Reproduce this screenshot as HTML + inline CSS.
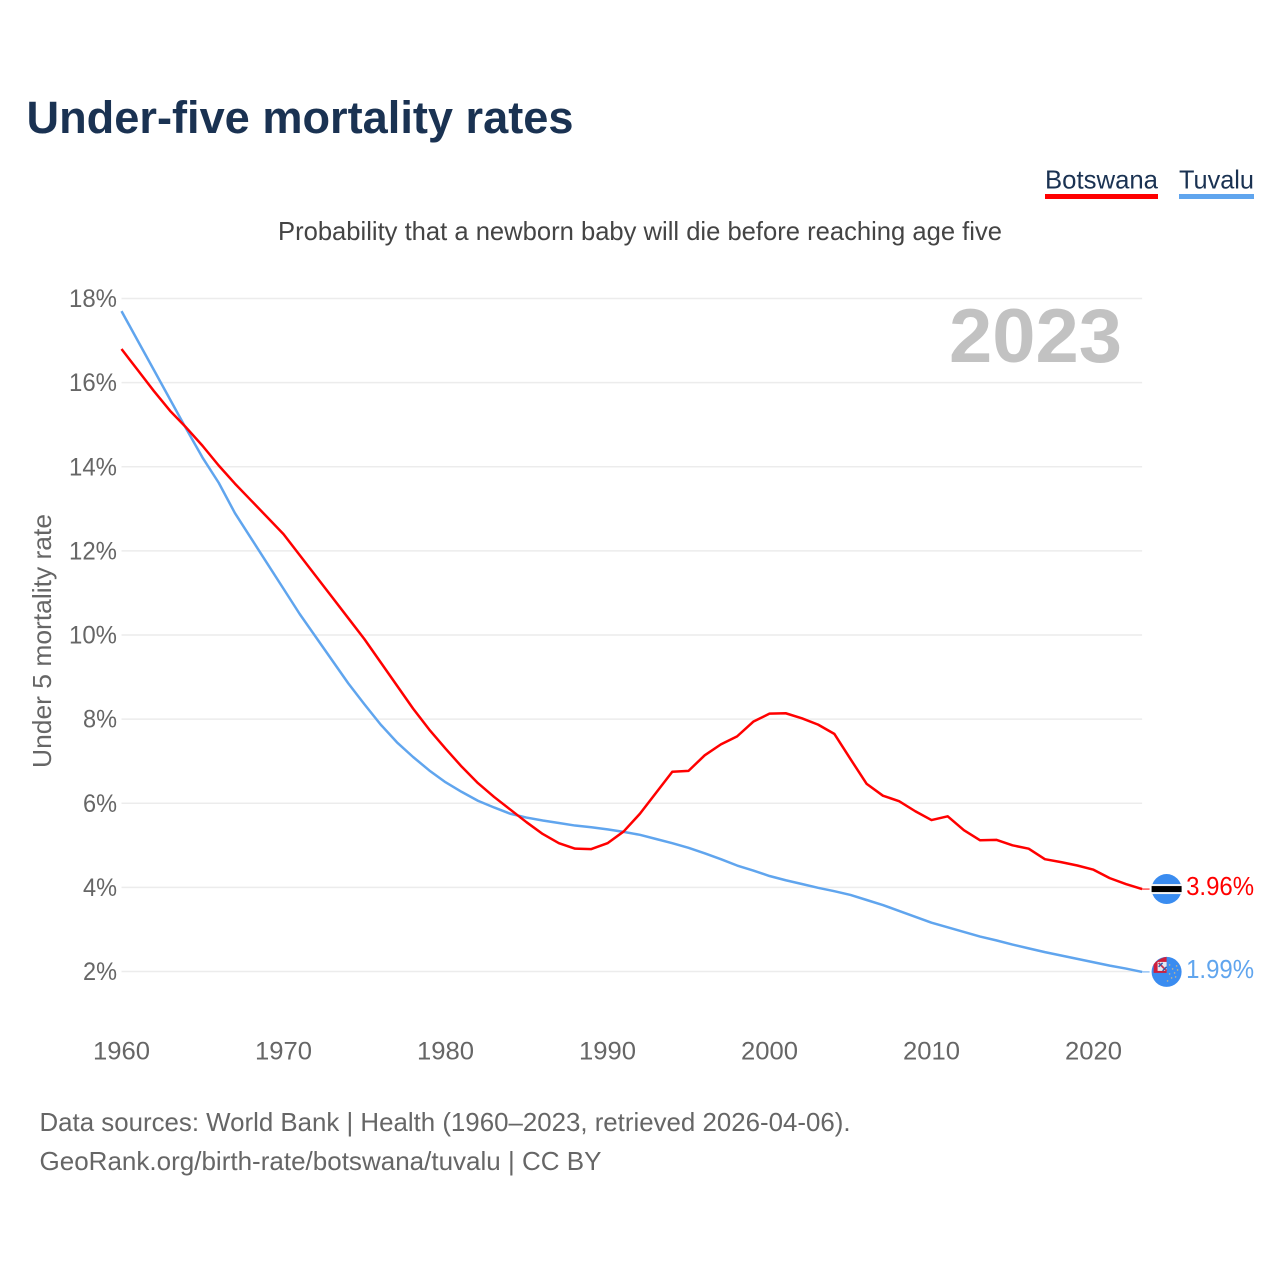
<!DOCTYPE html>
<html lang="en">
<head>
<meta charset="utf-8">
<title>Under-five mortality rates</title>
<style>
html,body{margin:0;padding:0;background:#fff;width:1280px;height:1280px;overflow:hidden}
svg{display:block}
text{font-family:"Liberation Sans",sans-serif}
</style>
</head>
<body>
<svg id="chart" xmlns="http://www.w3.org/2000/svg" width="1280" height="1280" viewBox="0 0 1280 1280">
  <rect width="1280" height="1280" fill="#fff"/>
  <text x="26.5" y="133" font-size="45" font-weight="700" fill="#1a3252" textLength="547" lengthAdjust="spacingAndGlyphs">Under-five mortality rates</text>
  <g>
    <g>
      <text x="1045" y="188.5" font-size="26" fill="#1a3252" textLength="113" lengthAdjust="spacingAndGlyphs">Botswana</text>
      <rect x="1045" y="194" width="113" height="5" fill="#ff0000"/>
    </g>
    <g>
      <text x="1179" y="188.5" font-size="26" fill="#1a3252" textLength="75" lengthAdjust="spacingAndGlyphs">Tuvalu</text>
      <rect x="1179" y="194" width="75" height="5" fill="#60a5ee"/>
    </g>
  </g>
  <text x="278" y="240" font-size="26" fill="#444" textLength="724" lengthAdjust="spacingAndGlyphs">Probability that a newborn baby will die before reaching age five</text>
  <g id="grid"></g>
  <g id="yticks"></g>
  <g id="xticks"></g>
  <text transform="translate(51,641) rotate(-90)" text-anchor="middle" font-size="26" fill="#666" textLength="254" lengthAdjust="spacingAndGlyphs">Under 5 mortality rate</text>
  <text x="949" y="362" font-size="76" font-weight="700" fill="#c2c2c2" textLength="173" lengthAdjust="spacingAndGlyphs">2023</text>
  <g id="series"></g>
  <g id="ends"></g>
  <text x="39.5" y="1131" font-size="26" fill="#666" textLength="811" lengthAdjust="spacingAndGlyphs">Data sources: World Bank | Health (1960–2023, retrieved 2026-04-06).</text>
  <text x="39.5" y="1170" font-size="26" fill="#666" textLength="562" lengthAdjust="spacingAndGlyphs">GeoRank.org/birth-rate/botswana/tuvalu | CC BY</text>
</svg>
<script>
const years = [1960,1961,1962,1963,1964,1965,1966,1967,1968,1969,1970,1971,1972,1973,1974,1975,1976,1977,1978,1979,1980,1981,1982,1983,1984,1985,1986,1987,1988,1989,1990,1991,1992,1993,1994,1995,1996,1997,1998,1999,2000,2001,2002,2003,2004,2005,2006,2007,2008,2009,2010,2011,2012,2013,2014,2015,2016,2017,2018,2019,2020,2021,2022,2023];
const botswana = [16.8,16.3,15.8,15.33,14.93,14.5,14.03,13.6,13.2,12.8,12.4,11.9,11.4,10.9,10.4,9.9,9.35,8.8,8.25,7.75,7.3,6.87,6.48,6.15,5.85,5.55,5.27,5.05,4.92,4.91,5.05,5.33,5.75,6.25,6.75,6.77,7.14,7.4,7.59,7.94,8.13,8.14,8.02,7.87,7.65,7.05,6.46,6.18,6.05,5.81,5.6,5.69,5.36,5.12,5.13,5.0,4.92,4.67,4.6,4.52,4.42,4.22,4.08,3.96];
const tuvalu = [17.7,17.0,16.3,15.6,14.9,14.22,13.62,12.9,12.3,11.7,11.1,10.5,9.95,9.4,8.85,8.35,7.87,7.45,7.1,6.78,6.5,6.27,6.06,5.9,5.75,5.66,5.59,5.53,5.47,5.43,5.38,5.32,5.25,5.15,5.05,4.94,4.81,4.67,4.52,4.4,4.27,4.17,4.08,3.99,3.91,3.82,3.7,3.58,3.44,3.3,3.16,3.05,2.94,2.83,2.74,2.64,2.55,2.46,2.38,2.3,2.22,2.14,2.07,1.99];
const yTickValues = [2,4,6,8,10,12,14,16,18];
const xTickValues = [1960,1970,1980,1990,2000,2010,2020];

const NS = 'http://www.w3.org/2000/svg';
const xScale = y => 121.5 + (y - 1960) * 16.2;
const yScale = v => 971.5 - (v - 2) * 42.06;
const lastYear = years[years.length - 1];

function mk(parent, tag, attrs, txt) {
  const el = document.createElementNS(NS, tag);
  for (const k in attrs) el.setAttribute(k, attrs[k]);
  if (txt !== undefined) el.textContent = txt;
  parent.appendChild(el);
  return el;
}

const gridG = document.getElementById('grid');
const yG = document.getElementById('yticks');
yTickValues.forEach(v => {
  const line = mk(gridG, 'line', {x1: xScale(1960), x2: xScale(lastYear), y1: yScale(v), y2: yScale(v), stroke: '#ececec', 'stroke-width': 1.5});
  
  
  const t = mk(yG, 'text', {x: 117, y: yScale(v) + 8.5, 'text-anchor': 'end', 'font-size': 25, fill: '#666', textLength: v >= 10 ? 48 : 34, lengthAdjust: 'spacingAndGlyphs'}, v + '%');
  
  
});

const xG = document.getElementById('xticks');
xTickValues.forEach(y => {
  const t = mk(xG, 'text', {x: xScale(y), y: 1059.5, 'text-anchor': 'middle', 'font-size': 25, fill: '#666', textLength: 57, lengthAdjust: 'spacingAndGlyphs'}, String(y));
  
  
});

const seriesG = document.getElementById('series');
function pts(values) {
  return values.map((v, i) => xScale(years[i]).toFixed(2) + ',' + yScale(v).toFixed(2)).join(' ');
}
const lineTuvalu = mk(seriesG, 'polyline', {points: pts(tuvalu), fill: 'none', stroke: '#60a5ee', 'stroke-width': 2.5, 'stroke-linejoin': 'round'});


const lineBotswana = mk(seriesG, 'polyline', {points: pts(botswana), fill: 'none', stroke: '#ff0000', 'stroke-width': 2.5, 'stroke-linejoin': 'round'});



const endsG = document.getElementById('ends');
const flagX = xScale(lastYear) + 24.5;
const endB = botswana[botswana.length - 1];
const endT = tuvalu[tuvalu.length - 1];

const connB = mk(endsG, 'line', {x1: xScale(lastYear), x2: flagX - 17, y1: yScale(endB), y2: yScale(endB), stroke: '#ff0000', 'stroke-width': 1});


const connT = mk(endsG, 'line', {x1: xScale(lastYear), x2: flagX - 17, y1: yScale(endT), y2: yScale(endT), stroke: '#60a5ee', 'stroke-width': 1});



/* Botswana flag */
const fb = mk(endsG, 'g', {transform: 'translate(' + flagX + ',' + yScale(endB) + ')'});


mk(fb, 'circle', {r: 15, fill: '#3a8cf0'});
mk(fb, 'rect', {x: -15, y: -5, width: 30, height: 10, fill: '#f4f4f4'});
mk(fb, 'rect', {x: -15, y: -3, width: 30, height: 6, fill: '#000'});

/* Tuvalu flag */
const ft = mk(endsG, 'g', {transform: 'translate(' + flagX + ',' + yScale(endT) + ')'});


mk(ft, 'circle', {r: 15, fill: '#3a8cf0'});
mk(ft, 'path', {d: 'M-13 1 L-13 -7.5 A15 15 0 0 1 -8 -12 Q-4 -14.5 0 -15 L0 1 Z', fill: '#cf1f3c'});
mk(ft, 'rect', {x: -9, y: -10, width: 9, height: 9, fill: '#e4e9f4'});
mk(ft, 'path', {d: 'M-8 -9 L0 -1', stroke: '#c8354f', 'stroke-width': 1.8, fill: 'none'});
mk(ft, 'path', {d: 'M-8 -5 L-4 -9 M-4 -1 L0 -5', stroke: '#2c5aa8', 'stroke-width': 1.4, fill: 'none'});
[[3,-7],[10,-6],[6,-3],[11,-2],[3,2],[8,1],[5,6],[9,5],[1,9]].forEach(p => {
  mk(ft, 'circle', {cx: p[0], cy: p[1], r: 0.8, fill: '#c9b78a'});
});

const labelB = mk(endsG, 'text', {x: flagX + 19.5, y: yScale(endB) + 6, 'font-size': 26, fill: '#ff0000', textLength: 68, lengthAdjust: 'spacingAndGlyphs'}, endB.toFixed(2) + '%');


const labelT = mk(endsG, 'text', {x: flagX + 19.5, y: yScale(endT) + 6, 'font-size': 26, fill: '#60a5ee', textLength: 68, lengthAdjust: 'spacingAndGlyphs'}, endT.toFixed(2) + '%');


</script>
</body>
</html>
